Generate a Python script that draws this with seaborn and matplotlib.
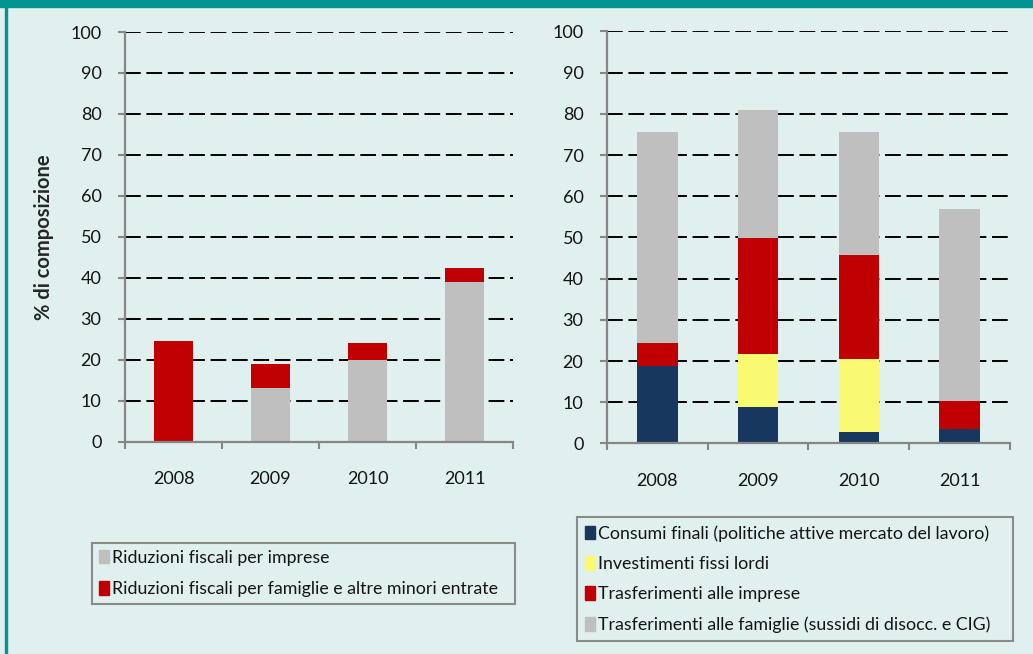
import pandas as pd
import seaborn as sns
import matplotlib.pyplot as plt
from matplotlib.patches import Rectangle, Patch

anni = ["2008", "2009", "2010", "2011"]

# pannello sinistro: minori entrate
rid_imprese = [0.0, 13.0, 20.0, 39.0]
rid_famiglie = [24.5, 5.9, 4.0, 3.4]

# pannello destro: maggiori spese
consumi = [18.7, 8.9, 2.7, 3.5]
investimenti = [0.0, 12.8, 17.7, 0.0]
trasf_imprese = [5.6, 28.1, 25.3, 6.8]
trasf_famiglie = [51.2, 31.2, 29.9, 46.7]

lab_sx = ["Riduzioni fiscali per imprese",
          "Riduzioni fiscali per famiglie e altre minori entrate"]
lab_dx = ["Consumi finali (politiche attive mercato del lavoro)",
          "Investimenti fissi lordi",
          "Trasferimenti alle imprese",
          "Trasferimenti alle famiglie (sussidi di disocc. e CIG)"]

NAVY = "#17375E"
GIALLO = "#FAFA72"
ROSSO = "#C00000"
GRIGIO = "#BFBFBF"
SFONDO = "#DFF0EF"
TEAL = "#00958F"
ASSE = "#868686"

sns.set_style("ticks")
plt.rcParams["font.family"] = ["Lato", "DejaVu Sans"]

fig = plt.figure(figsize=(10.33, 6.54), dpi=100, facecolor=SFONDO)
ax1 = fig.add_axes([0.1210, 0.3249, 0.3756, 0.6261])
ax2 = fig.add_axes([0.5876, 0.3219, 0.3901, 0.6300])


def stack(ax, layers, colors):
    # layers dal basso verso l'alto; disegno le somme cumulate dalla piu' alta
    cum = []
    tot = [0.0] * len(anni)
    for lay in layers:
        tot = [a + b for a, b in zip(tot, lay)]
        cum.append(tot)
    for vals, col in reversed(list(zip(cum, colors))):
        df = pd.DataFrame({"anno": anni, "valore": vals})
        sns.barplot(data=df, x="anno", y="valore", color=col, width=0.4,
                    linewidth=0, saturation=1, ax=ax, zorder=2)


stack(ax1, [rid_imprese, rid_famiglie], [GRIGIO, ROSSO])
stack(ax2, [consumi, investimenti, trasf_imprese, trasf_famiglie],
      [NAVY, GIALLO, ROSSO, GRIGIO])

for ax in (ax1, ax2):
    ax.set_facecolor(SFONDO)
    ax.set_ylim(0, 100)
    ax.set_xlim(-0.5, 3.5)
    ax.set_yticks(range(0, 101, 10))
    ax.set_xticks(range(4))
    ax.set_xticks([-0.5, 0.5, 1.5, 2.5, 3.5], minor=True)
    ax.set_xticklabels(anni)
    ax.tick_params(axis="x", which="major", length=0, pad=21, labelsize=13,
                   labelcolor="#141414")
    ax.tick_params(axis="x", which="minor", length=5, width=1.5, color=ASSE,
                   direction="out")
    ax.tick_params(axis="y", length=5, width=1.5, color=ASSE, pad=12,
                   labelsize=13, labelcolor="#141414")
    ax.set_xlabel("")
    ax.set_ylabel("")
    ax.yaxis.grid(True, color="black", linewidth=1.4, linestyle=(0, (8.1, 2.9)))
    ax.set_axisbelow(True)
    for s in ("top", "right"):
        ax.spines[s].set_visible(False)
    for s in ("left", "bottom"):
        ax.spines[s].set_color(ASSE)
        ax.spines[s].set_linewidth(1.6)
        ax.spines[s].set_zorder(3)

ax1.set_ylabel("% di composizione", fontsize=14.5, fontweight="bold", labelpad=12)

h_sx = [Patch(color=GRIGIO), Patch(color=ROSSO)]
h_dx = [Patch(color=NAVY), Patch(color=GIALLO), Patch(color=ROSSO), Patch(color=GRIGIO)]

leg_kw = dict(loc="upper left", mode="expand", borderaxespad=0, fancybox=False,
              edgecolor="#8a8a8a", facecolor=SFONDO, framealpha=1, fontsize=12.8,
              handlelength=0.55, handleheight=0.8, handletextpad=0.2)
l1 = fig.legend(h_sx, lab_sx, bbox_to_anchor=(0.0891, 0, 0.4095, 0.1697),
                labelspacing=0.87, borderpad=0.38, **leg_kw)
l2 = fig.legend(h_dx, lab_dx, bbox_to_anchor=(0.5586, 0, 0.4220, 0.2095),
                labelspacing=0.81, borderpad=0.45, **leg_kw)
for l in (l1, l2):
    l.get_frame().set_linewidth(1.5)
    for t in l.get_texts():
        t.set_color("#141414")

# cornice teal
fig.add_artist(Rectangle((0, 1 - 7 / 654), 1, 7 / 654, transform=fig.transFigure,
                         color=TEAL, zorder=0))
fig.add_artist(Rectangle((5 / 1033, 0), 2 / 1033, 1, transform=fig.transFigure,
                         color=TEAL, zorder=0))

fig.savefig("out.png", dpi=100, facecolor=SFONDO)
